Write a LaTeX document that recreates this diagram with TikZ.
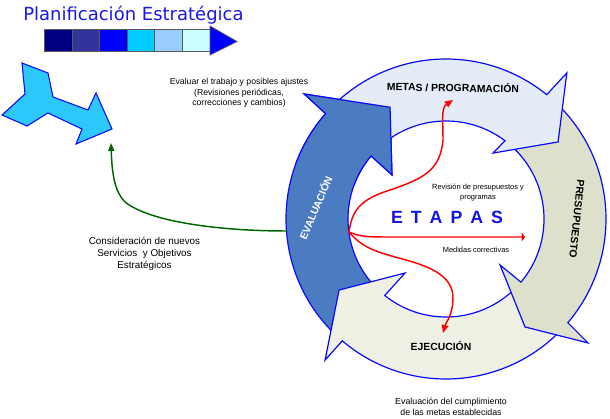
\documentclass[tikz,border=0pt]{standalone}
\usepackage{fontspec}
\setmainfont{Liberation Sans}
\newfontfamily\titlefont{DejaVu Sans}
\usetikzlibrary{arrows.meta}
\definecolor{evalc}{RGB}{75,123,192}
\definecolor{metasc}{RGB}{228,236,248}
\definecolor{presuc}{RGB}{221,224,203}
\definecolor{ejecc}{RGB}{238,240,228}
\definecolor{ringline}{RGB}{10,10,250}
\definecolor{titleblue}{RGB}{25,25,230}
\definecolor{etapasblue}{RGB}{20,20,225}
\definecolor{cyanf}{RGB}{45,200,250}
\definecolor{greenc}{RGB}{0,100,0}
\definecolor{bargray}{RGB}{90,90,90}
\definecolor{barA}{RGB}{0,0,128}
\definecolor{barB}{RGB}{51,51,153}
\definecolor{barC}{RGB}{0,0,255}
\definecolor{barD}{RGB}{0,204,255}
\definecolor{barE}{RGB}{153,204,255}
\definecolor{barF}{RGB}{204,255,255}
\begin{document}
\begin{tikzpicture}[x=0.75pt,y=-0.75pt,
  ring/.style={draw=ringline, line width=0.9pt, line join=miter, miter limit=20},
  lbl/.style={font=\fontsize{7.8}{9}\selectfont\bfseries, inner sep=0pt, text height=5.6pt, text depth=0pt},
  note/.style={align=center, inner sep=0pt},
  redline/.style={draw=red, line width=1.1pt},
  redtip/.style={-{Triangle[length=6pt,width=5pt]}},
]
\useasboundingbox[fill=white] (0,0) rectangle (610,418);

% title and colour bar
\node[font=\titlefont\fontsize{13.5}{16}\selectfont, text=titleblue, inner sep=0pt, anchor=base west] (title) at (23,20) {Planificación Estratégica};
\foreach \c [count=\i from 0] in {barA,barB,barC,barD,barE,barF}
  \draw[draw=bargray, line width=0.6pt, fill=\c] ({44.3+27.6*\i},29) rectangle ++(27.6,22);
\draw[draw=bargray, line width=0.6pt, fill=barC] (210,26) -- (237,41.5) -- (210,55) -- cycle;

% cyan arrow
\draw[fill=cyanf, draw=ringline, line width=0.8pt, line join=miter]
  (22,63) -- (48,73) -- (53,97) -- (88,110) -- (96,93) -- (112,129) -- (76,144) -- (82,129)
  -- (48,113) -- (27,126) -- (2,115) -- (25,94) -- cycle;

% ring of arrows
\begin{scope}[shift={(446,219)}]
  % EVALUACION
  \path[ring, fill=evalc] (133:160) arc[start angle=133, end angle=221.2, radius=160]
    -- (221.4:189) -- (243.4:125) -- (219.2:69.7) -- (220.1:98)
    arc[start angle=220.1, end angle=133, radius=98] -- cycle;
  % EJECUCION
  \path[ring, fill=ejecc] (43.5:160) arc[start angle=43.5, end angle=130.4, radius=160]
    -- (130.6:185.8) -- (146.4:128.4) -- (127.2:67.8) -- (128.7:98)
    arc[start angle=128.7, end angle=43.5, radius=98] -- cycle;
  % PRESUPUESTO
  \path[ring, fill=presuc] (309:160) arc[start angle=309, end angle=400.4, radius=160]
    -- (401.1:188.5) -- (413.8:133.8) -- (400.4:71) -- (400.1:98)
    arc[start angle=400.1, end angle=309, radius=98] -- cycle;
  % METAS
  \path[ring, fill=metasc] (224:160) arc[start angle=224, end angle=309, radius=160]
    -- (309.6:189.6) -- (325.5:136) -- (305.5:81) -- (307:98)
    arc[start angle=307, end angle=224, radius=98] -- cycle;
  % EVALUACION head again, on top of the METAS tail
  \fill[evalc] (200:160) arc[start angle=200, end angle=221.2, radius=160]
    -- (221.4:189) -- (243.4:125) -- (219.2:69.7) -- (220.1:98)
    arc[start angle=220.1, end angle=200, radius=98] -- cycle;
  \draw[ring] (200:160) arc[start angle=200, end angle=221.2, radius=160]
    -- (221.4:189) -- (243.4:125) -- (219.2:69.7) -- (220.1:98)
    arc[start angle=220.1, end angle=200, radius=98];
\end{scope}

% labels in the ring
\node[lbl, rotate=-1] (metas) at (453,88) {METAS / PROGRAMACIÓN};
\node[lbl, rotate=-96] (presu) at (577,219) {PRESUPUESTO};
\node[lbl] (ejec) at (441,347) {EJECUCIÓN};
\node[lbl, text=white, rotate=67] (evalu) at (316,208) {EVALUACIÓN};
\node[font=\fontsize{13.3}{15}\selectfont\bfseries, text=etapasblue, inner sep=0pt, text height=9.5pt, text depth=0pt] (etapas) at (447,217.5) {\spaceskip=6pt\relax E T A P A S};

% notes
\node[note, font=\fontsize{6.5}{7.9}\selectfont] (evalnote) at (239,93) {Evaluar el trabajo y posibles ajustes\\(Revisiones periódicas,\\correcciones y cambios)};
\node[note, font=\fontsize{5.6}{7.5}\selectfont] (revnote) at (478,193) {Revisión de presupuestos y\\programas};
\node[note, font=\fontsize{5.6}{7}\selectfont] (mednote) at (476,250) {Medidas correctivas};
\node[note, font=\fontsize{7.4}{8.8}\selectfont] (consnote) at (144.5,254) {Consideración de nuevos\\Servicios\ \ y Objetivos\\Estratégicos};
\node[note, font=\fontsize{6.6}{8.25}\selectfont] (cumpnote) at (451,406.5) {Evaluación del cumplimiento\\de las metas establecidas};

% connectors
\coordinate (hub) at (349,232);
\coordinate (metasend) at (453,100);
\coordinate (ejecend) at (443,333);
\coordinate (medend) at (525,237);
\coordinate (gstart) at (287,231);
\coordinate (gend) at (111,143);

\draw[redline, redtip] (hub) .. controls (352,212) and (358,200) .. (390,190)
  .. controls (425,178) and (440,170) .. (443,140)
  .. controls (443,120) and (441,108) .. (metasend);
\draw[redline, redtip] (hub) .. controls (360,245) and (370,250) .. (395,257)
  .. controls (430,266) and (452,275) .. (453,297)
  .. controls (453,315) and (446,322) .. (ejecend);
\draw[redline, -{Triangle[length=2.5pt,width=6.5pt]}] (hub) .. controls (360,237) and (370,237) .. (390,237) -- (medend);
\draw[draw=greenc, line width=1.1pt, -{Triangle[length=6pt,width=4.5pt]}] (gstart)
  .. controls (220,231) and (150,222) .. (125,202)
  .. controls (115,192) and (112,175) .. (gend);
\end{tikzpicture}
\end{document}
